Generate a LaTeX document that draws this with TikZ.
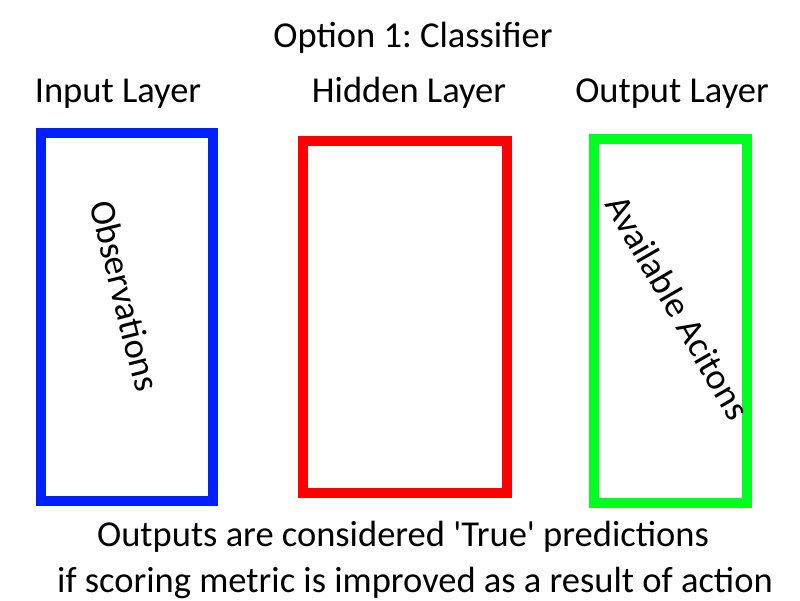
\documentclass[tikz,border=0pt]{standalone}
\usepackage{fontspec}
\setmainfont{Carlito}
\frenchspacing
\definecolor{cblue}{RGB}{0,32,255}
\definecolor{cred}{RGB}{255,0,0}
\definecolor{cgreen}{RGB}{0,255,32}
\begin{document}
\begin{tikzpicture}[x=1pt,y=-1pt,
  layerbox/.style={draw=#1, line width=10pt},
  lbl/.style={font=\fontsize{36.5}{40}\selectfont, inner sep=0pt, anchor=base},
  rlbl/.style={font=\fontsize{36.5}{40}\selectfont, inner sep=0pt, anchor=center, text height=0.62em, text depth=0pt}]
\useasboundingbox[fill=white] (0,0) rectangle (800,600);
\draw[layerbox=cblue] (41,133) rectangle (213,501);
\draw[layerbox=cred] (303,141) rectangle (507,493);
\draw[layerbox=cgreen] (594,139) rectangle (747,503);
\node[lbl] (title) at (413,47) {Option 1: Classifier};
\node[lbl] (in) at (118,102) {Input Layer};
\node[lbl] (hid) at (409,102) {Hidden Layer};
\node[lbl] (out) at (672,102) {Output Layer};
\node[rlbl, rotate=-76] (obs) at (116,298) {Observations};
\node[rlbl, rotate=-60] (act) at (670,312) {Available Acitons};
\node[lbl] (b1) at (403,546) {Outputs are considered \textquotesingle True\textquotesingle\ predictions};
\node[lbl] (b2) at (415,592) {if scoring metric is improved as a result of action};
\end{tikzpicture}
\end{document}
